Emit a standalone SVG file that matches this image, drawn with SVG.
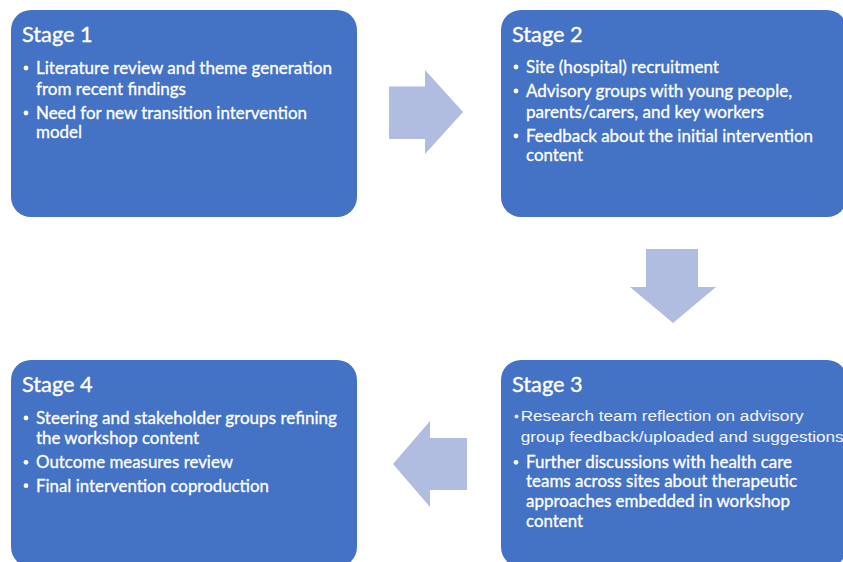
<svg xmlns="http://www.w3.org/2000/svg" width="843" height="562" viewBox="0 0 843 562">
<style>
.box{fill:#4472C4;}
.arrow{fill:#B0BDE0;}
.title{font-family:Lato,"Open Sans","Liberation Sans",sans-serif;font-size:21px;fill:#FFFFFF;stroke:#FFFFFF;stroke-width:0.35;}
.txt{font-family:Lato,"Open Sans","Liberation Sans",sans-serif;font-size:16.5px;fill:#FFFFFF;stroke:#FFFFFF;stroke-width:0.3;}
.arial{font-family:"Liberation Sans",Arial,sans-serif;font-size:15.5px;fill:#F4F6FB;}
.dot{fill:#FFFFFF;}
</style>
<rect width="843" height="562" fill="#FFFFFF"/>
<g id="connectors">
  <polygon class="arrow" points="389,86.5 425,86.5 425,70 463,112 425,154 425,139 389,139"/>
  <polygon class="arrow" points="646,249 698,249 698,287 716,287 673,323 630,287 646,287"/>
  <polygon class="arrow" points="467,438 430,438 430,421 393,464 430,507 430,490 467,490"/>
</g>
<g id="stage1">
  <rect class="box" x="11" y="10" width="346" height="207" rx="20" ry="20"/>
  <text class="title" x="22" y="41.7" textLength="70.7" lengthAdjust="spacingAndGlyphs">Stage 1</text>
  <circle class="dot" cx="26" cy="68" r="2.4"/>
  <text class="txt" x="36" y="74" textLength="296" lengthAdjust="spacingAndGlyphs">Literature review and theme generation</text>
  <text class="txt" x="36" y="95" textLength="150" lengthAdjust="spacingAndGlyphs">from recent findings</text>
  <circle class="dot" cx="26" cy="113" r="2.4"/>
  <text class="txt" x="36" y="118.5" textLength="271" lengthAdjust="spacingAndGlyphs">Need for new transition intervention</text>
  <text class="txt" x="36" y="137.5" textLength="46" lengthAdjust="spacingAndGlyphs">model</text>
</g>
<g id="stage2">
  <rect class="box" x="501" y="10" width="346" height="207" rx="20" ry="20"/>
  <text class="title" x="512" y="41.7" textLength="70.7" lengthAdjust="spacingAndGlyphs">Stage 2</text>
  <circle class="dot" cx="516" cy="67" r="2.4"/>
  <text class="txt" x="526" y="73" textLength="193" lengthAdjust="spacingAndGlyphs">Site (hospital) recruitment</text>
  <circle class="dot" cx="516" cy="91" r="2.4"/>
  <text class="txt" x="526" y="97" textLength="266" lengthAdjust="spacingAndGlyphs">Advisory groups with young people,</text>
  <text class="txt" x="526" y="118" textLength="238" lengthAdjust="spacingAndGlyphs">parents/carers, and key workers</text>
  <circle class="dot" cx="516" cy="136" r="2.4"/>
  <text class="txt" x="526" y="142" textLength="287" lengthAdjust="spacingAndGlyphs">Feedback about the initial intervention</text>
  <text class="txt" x="526" y="161" textLength="57" lengthAdjust="spacingAndGlyphs">content</text>
</g>
<g id="stage3">
  <rect class="box" x="501" y="360" width="346" height="207" rx="20" ry="20"/>
  <text class="title" x="512" y="391.7" textLength="70.7" lengthAdjust="spacingAndGlyphs">Stage 3</text>
  <circle class="dot" cx="516.5" cy="416.5" r="2" fill-opacity="0.85"/>
  <text class="arial" x="520.7" y="420.7" textLength="283" lengthAdjust="spacingAndGlyphs">Research team reflection on advisory</text>
  <text class="arial" x="520.7" y="441.7" textLength="323" lengthAdjust="spacingAndGlyphs">group feedback/uploaded and suggestions</text>
  <circle class="dot" cx="516" cy="462.3" r="2.4"/>
  <text class="txt" x="526" y="468.3" textLength="266" lengthAdjust="spacingAndGlyphs">Further discussions with health care</text>
  <text class="txt" x="526" y="487.3" textLength="271" lengthAdjust="spacingAndGlyphs">teams across sites about therapeutic</text>
  <text class="txt" x="526" y="506.7" textLength="264" lengthAdjust="spacingAndGlyphs">approaches embedded in workshop</text>
  <text class="txt" x="526" y="527.3" textLength="57" lengthAdjust="spacingAndGlyphs">content</text>
</g>
<g id="stage4">
  <rect class="box" x="11" y="360" width="346" height="207" rx="20" ry="20"/>
  <text class="title" x="22" y="391.7" textLength="70.7" lengthAdjust="spacingAndGlyphs">Stage 4</text>
  <circle class="dot" cx="26" cy="418" r="2.4"/>
  <text class="txt" x="36" y="424" textLength="301" lengthAdjust="spacingAndGlyphs">Steering and stakeholder groups refining</text>
  <text class="txt" x="36" y="444.3" textLength="163" lengthAdjust="spacingAndGlyphs">the workshop content</text>
  <circle class="dot" cx="26" cy="462.3" r="2.4"/>
  <text class="txt" x="36" y="468.3" textLength="197" lengthAdjust="spacingAndGlyphs">Outcome measures review</text>
  <circle class="dot" cx="26" cy="485.7" r="2.4"/>
  <text class="txt" x="36" y="491.7" textLength="233" lengthAdjust="spacingAndGlyphs">Final intervention coproduction</text>
</g>
</svg>
